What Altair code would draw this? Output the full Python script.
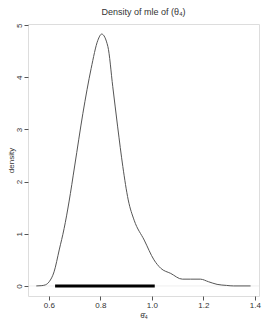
import altair as alt
import pandas as pd

# density curve
xs = [0.551, 0.570, 0.586, 0.601, 0.620, 0.640, 0.659, 0.678, 0.700, 0.732, 0.764,
      0.790, 0.805, 0.829, 0.848, 0.867, 0.887, 0.908, 0.931, 0.970, 1.008, 1.034,
      1.073, 1.118, 1.150, 1.188, 1.220, 1.253, 1.290, 1.317, 1.383]
ys = [0.0, 0.005, 0.02, 0.08, 0.27, 0.69, 1.10, 1.61, 2.30, 3.31, 4.17,
      4.71, 4.83, 4.59, 3.82, 3.05, 2.29, 1.65, 1.26, 0.88, 0.50, 0.34,
      0.24, 0.13, 0.13, 0.13, 0.08, 0.03, 0.01, 0.0, 0.0]

# interval bar
interval_lo = [0.624]
interval_hi = [1.011]

x_ticks = [0.6, 0.8, 1.0, 1.2, 1.4]
y_ticks = [0, 1, 2, 3, 4, 5]

curve = pd.DataFrame({"x": xs, "y": ys})
bar = pd.DataFrame({"lo": interval_lo, "hi": interval_hi, "y": [0.0]})

xscale = alt.Scale(domain=[0.5188, 1.4158], nice=False, zero=False)
yscale = alt.Scale(domain=[-0.193, 5.023], nice=False, zero=False)

ax_common = dict(domain=False, grid=False, tickColor="#555", tickSize=4,
                 labelColor="#333", labelFont="Liberation Sans", labelFontSize=8,
                 titleColor="#333", titleFont="Liberation Sans", titleFontSize=8,
                 titleFontWeight="normal")

zero = alt.Chart(pd.DataFrame({"y": [0.0]})).mark_rule(
    color="#e2e2e2", strokeWidth=0.6
).encode(y=alt.Y("y:Q", scale=yscale))

line = alt.Chart(curve).mark_line(
    color="#555", strokeWidth=1, interpolate="monotone"
).encode(
    x=alt.X("x:Q", scale=xscale,
            axis=alt.Axis(values=x_ticks, format=".1f", title="θ̂₄",
                          labelPadding=1, titlePadding=2, **ax_common)),
    y=alt.Y("y:Q", scale=yscale,
            axis=alt.Axis(values=y_ticks, format="d", title="density",
                          labelAngle=-90, labelAlign="center", labelBaseline="bottom",
                          labelPadding=1, titlePadding=0, **ax_common)),
)

seg = alt.Chart(bar).mark_rule(color="black", strokeWidth=3).encode(
    x=alt.X("lo:Q", scale=xscale), x2="hi:Q", y=alt.Y("y:Q", scale=yscale)
)

chart = alt.layer(zero, line, seg).properties(
    width=231, height=272,
    title=alt.TitleParams("Density of mle of (θ₄)", font="Liberation Sans",
                          fontSize=9, fontWeight="normal", color="#333", offset=6),
    autosize=alt.AutoSizeParams(type="none"),
    padding={"left": 20, "top": 16, "right": 6, "bottom": 23},
).configure_view(stroke="#777", strokeWidth=1).configure(background="white")

chart.save("out.html", embed_options={"renderer": "svg", "actions": False})
